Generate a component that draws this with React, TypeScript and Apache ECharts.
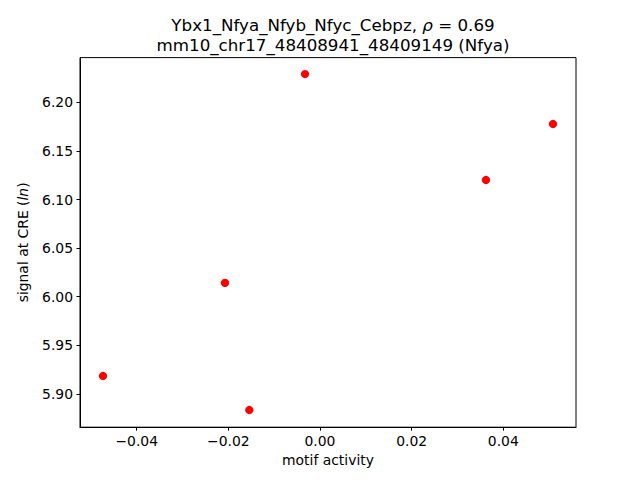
import React, { useEffect, useRef } from "react";
import * as echarts from "echarts";

const motifActivity = [-0.04735, -0.02073, -0.01542, -0.00327, 0.03622, 0.05084];
const signalAtCRE = [5.9185, 6.0142, 5.8835, 6.2291, 6.1201, 6.1777];
const xTicks = [-0.04, -0.02, 0.0, 0.02, 0.04];
const yTicks = [5.9, 5.95, 6.0, 6.05, 6.1, 6.15, 6.2];
const titleLine1 = "Ybx1_Nfya_Nfyb_Nfyc_Cebpz, ";
const rhoText = "ρ";
const rhoValue = " = 0.69";
const titleLine2 = "mm10_chr17_48408941_48409149 (Nfya)";
const xName = "motif activity";

const FONT = "DejaVu Sans";

export default function App() {
  const ref = useRef<HTMLDivElement>(null);
  useEffect(() => {
    if (!ref.current) return;
    const chart = echarts.init(ref.current, null, { renderer: "svg" });
    const fmt = (v: number) => v.toFixed(2).replace("-", "\u2212");
    chart.setOption({
      animation: false,
      backgroundColor: "#ffffff",
      title: {
        text: `{n|${titleLine1}}{i|${rhoText}}{n|${rhoValue}}\n{n|${titleLine2}}`,
        left: 328,
        top: 10,
        textAlign: "center",
        textStyle: {
          fontWeight: "normal",
          rich: {
            n: { fontFamily: FONT, fontSize: 16.7, fontWeight: "normal", color: "#000", lineHeight: 20 },
            i: { fontFamily: FONT, fontSize: 16.7, fontWeight: "normal", fontStyle: "italic", color: "#000", lineHeight: 20 },
          },
        },
      },
      grid: {
        left: 80,
        right: 64,
        top: 57.6,
        bottom: 52.8,
        show: true,
        borderColor: "#000",
        borderWidth: 1,
        backgroundColor: "transparent",
      },
      xAxis: {
        type: "value",
        min: -0.05237,
        max: 0.05586,
        name: xName,
        nameLocation: "middle",
        nameGap: 26,
        nameTextStyle: { fontFamily: FONT, fontSize: 13.9, color: "#000", verticalAlign: "top" },
        axisLine: { show: true, onZero: false, lineStyle: { color: "#000", width: 1 } },
        axisTick: { show: true, inside: false, length: 3.5, customValues: xTicks, lineStyle: { color: "#000", width: 1 } },
        axisLabel: { customValues: xTicks, margin: 7, fontFamily: FONT, fontSize: 13.9, color: "#000", formatter: fmt },
        splitLine: { show: false },
      },
      yAxis: {
        type: "value",
        min: 5.8658,
        max: 6.246,
        name: "{n|signal at CRE (}{i|ln}{n|)}",
        nameLocation: "middle",
        nameGap: 50,
        nameRotate: 90,
        nameTextStyle: {
          rich: {
            n: { fontFamily: FONT, fontSize: 13.9, color: "#000" },
            i: { fontFamily: FONT, fontSize: 13.9, fontStyle: "italic", color: "#000" },
          },
        },
        axisLine: { show: true, onZero: false, lineStyle: { color: "#000", width: 1 } },
        axisTick: { show: true, inside: false, length: 3.5, customValues: yTicks, lineStyle: { color: "#000", width: 1 } },
        axisLabel: { customValues: yTicks, margin: 7, fontFamily: FONT, fontSize: 13.9, color: "#000", formatter: fmt },
        splitLine: { show: false },
      },
      series: [
        {
          type: "scatter",
          data: motifActivity.map((x, i) => [x, signalAtCRE[i]]),
          symbol: "circle",
          symbolSize: 8.3,
          itemStyle: { color: "#ff0000", opacity: 1 },
        },
      ],
    });
    return () => chart.dispose();
  }, []);
  return (
    <div
      ref={ref}
      style={{ position: "fixed", left: 0, top: 0, width: 640, height: 480, background: "#fff" }}
    />
  );
}
